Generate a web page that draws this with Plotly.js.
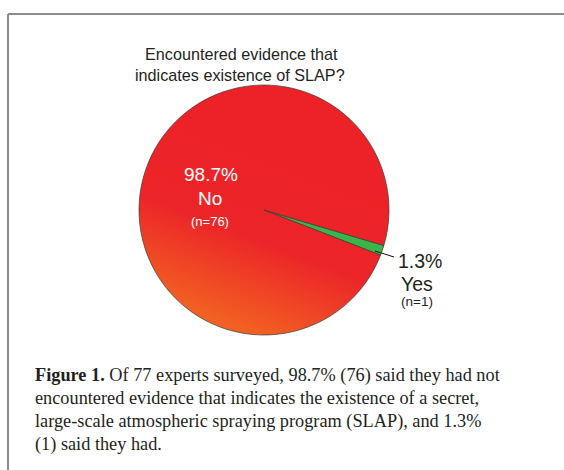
<!DOCTYPE html>
<html>
<head>
<meta charset="utf-8">
<script src="https://cdn.plot.ly/plotly-3.0.1.min.js"></script>
<style>
  html, body { margin: 0; padding: 0; background: #fff; }
  #chart { width: 564px; height: 470px; }
</style>
</head>
<body>
<div id="chart"></div>
<script>
// ---- data ----
const categories = ['Yes', 'No'];
const counts = [1, 76];
const percentLabels = ['1.3%', '98.7%'];
const nLabels = ['(n=1)', '(n=76)'];
const sliceColors = ['#3AB54A', '#EC2227'];
const titleLines = ['Encountered evidence that', 'indicates existence of SLAP?'];
const captionLines = [
  '<b>Figure 1.</b> Of 77 experts surveyed, 98.7% (76) said they had not',
  'encountered evidence that indicates the existence of a secret,',
  'large-scale atmospheric spraying program (SLAP), and 1.3%',
  '(1) said they had.'
];

// ---- helpers (pixel -> paper) ----
const W = 564, H = 470;
const px = v => v / W;
const py = v => 1 - v / H;

const sans = 'Liberation Sans, Arial, Helvetica, sans-serif';
const serif = 'Liberation Serif, Times New Roman, serif';
const ink = '#231F20';

const annotations = [];
function addText(text, x, y, size, color, xanchor, family) {
  annotations.push({
    xref: 'paper', yref: 'paper', x: px(x), y: py(y),
    text: text, showarrow: false, xanchor: xanchor || 'center', yanchor: 'middle',
    font: { family: family || sans, size: size, color: color }
  });
}

// title
addText(titleLines[0], 241, 54.5, 16.2, ink);
addText(titleLines[1], 240, 75, 16.2, ink);

// No labels (inside)
addText(percentLabels[1], 211, 174.5, 19, '#FFFFFF');
addText(categories[1], 210, 198.5, 19, '#FFFFFF');
addText(nLabels[1], 210, 221.5, 13, '#FFFFFF');

// Yes labels (outside)
addText(percentLabels[0], 419.5, 261, 19.5, ink);
addText(categories[0], 416.5, 283.5, 19.5, ink);
addText(nLabels[0], 417, 301.5, 13.5, ink);

// caption
const capY = [375, 398, 421, 444];
captionLines.forEach((t, i) => addText(t, 33, capY[i], 18.3, ink, 'left', serif));

const shapes = [
  // frame (top and left edges)
  { type: 'line', xref: 'paper', yref: 'paper', x0: px(8), x1: px(570), y0: py(14), y1: py(14),
    line: { color: '#8C8C8C', width: 2 } },
  { type: 'line', xref: 'paper', yref: 'paper', x0: px(8), x1: px(8), y0: py(14), y1: py(480),
    line: { color: '#8C8C8C', width: 2 } },
  // leader line for Yes
  { type: 'line', xref: 'paper', yref: 'paper', x0: px(375), x1: px(394), y0: py(251), y1: py(257),
    line: { color: '#111111', width: 1 } }
];

const trace = {
  type: 'pie',
  labels: categories,
  values: counts,
  sort: false,
  direction: 'clockwise',
  rotation: 106.5,
  textinfo: 'none',
  hoverinfo: 'none',
  showlegend: false,
  marker: { colors: sliceColors, line: { color: '#3A3A3A', width: 0.7 } },
  domain: { x: [px(264 - 125), px(264 + 125)], y: [py(335), py(85)] }
};

const layout = {
  width: W, height: H,
  margin: { l: 0, r: 0, t: 0, b: 0 },
  paper_bgcolor: '#FFFFFF',
  showlegend: false,
  annotations: annotations,
  shapes: shapes
};

Plotly.newPlot('chart', [trace], layout, { staticPlot: true, displayModeBar: false }).then(gd => {
  // apply red->orange gradient to the "No" slice, like the reference
  const svg = gd.querySelector('svg.main-svg');
  let defs = svg.querySelector('defs');
  const ns = 'http://www.w3.org/2000/svg';
  if (!defs) { defs = document.createElementNS(ns, 'defs'); svg.insertBefore(defs, svg.firstChild); }
  const lg = document.createElementNS(ns, 'linearGradient');
  lg.setAttribute('id', 'noGrad');
  lg.setAttribute('x1', '0.65'); lg.setAttribute('y1', '0.35');
  lg.setAttribute('x2', '0.4'); lg.setAttribute('y2', '1');
  [['0', '#EC2227'], ['0.45', '#EC2528'], ['1', '#F26522']].forEach(([o, c]) => {
    const s = document.createElementNS(ns, 'stop');
    s.setAttribute('offset', o); s.setAttribute('stop-color', c);
    lg.appendChild(s);
  });
  defs.appendChild(lg);
  const paths = gd.querySelectorAll('.pielayer .slice path.surface');
  if (paths.length > 1) paths[1].style.fill = 'url(#noGrad)';
});
</script>
</body>
</html>
